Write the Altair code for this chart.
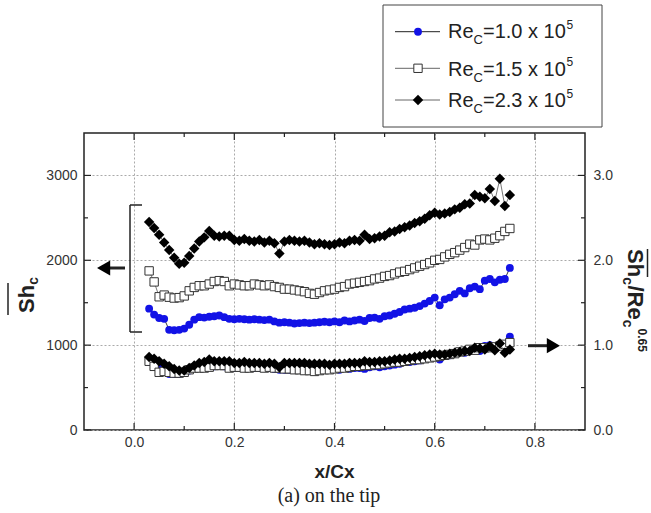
import altair as alt
import pandas as pd

# ---------------- data ----------------
X = [0.03, 0.04, 0.05, 0.06, 0.07, 0.08, 0.09, 0.10, 0.11, 0.12,
     0.13, 0.14, 0.15, 0.16, 0.17, 0.18, 0.19, 0.20, 0.21, 0.22,
     0.23, 0.24, 0.25, 0.26, 0.27, 0.28, 0.29, 0.30, 0.31, 0.32,
     0.33, 0.34, 0.35, 0.36, 0.37, 0.38, 0.39, 0.40, 0.41, 0.42,
     0.43, 0.44, 0.45, 0.46, 0.47, 0.48, 0.49, 0.50, 0.51, 0.52,
     0.53, 0.54, 0.55, 0.56, 0.57, 0.58, 0.59, 0.60, 0.61, 0.62,
     0.63, 0.64, 0.65, 0.66, 0.67, 0.68, 0.69, 0.70, 0.71, 0.72,
     0.73, 0.74, 0.75]

# Sh_c (left axis)
SH_RE10 = [1430, 1360, 1320, 1310, 1180, 1175, 1180, 1195, 1240, 1300,
           1330, 1325, 1335, 1340, 1350, 1330, 1310, 1305, 1310, 1305,
           1300, 1305, 1300, 1295, 1300, 1280, 1265, 1270, 1265, 1255,
           1260, 1265, 1260, 1265, 1270, 1275, 1270, 1280, 1270, 1290,
           1280, 1290, 1300, 1285, 1320, 1325, 1310, 1340, 1350, 1370,
           1390, 1420, 1430, 1440, 1460, 1490, 1520, 1560, 1470, 1540,
           1560, 1600, 1640, 1610, 1670, 1690, 1660, 1760, 1780, 1740,
           1770, 1780, 1910]
SH_RE15 = [1875, 1745, 1570, 1590, 1565, 1555, 1560, 1580, 1640, 1680,
           1700, 1700, 1720, 1750, 1760, 1750, 1700, 1720, 1710, 1700,
           1700, 1720, 1710, 1700, 1710, 1690, 1680, 1660, 1660, 1650,
           1640, 1630, 1610, 1600, 1620, 1640, 1650, 1660, 1680, 1690,
           1720, 1730, 1740, 1750, 1760, 1780, 1790, 1810, 1820, 1840,
           1860, 1870, 1890, 1910, 1930, 1950, 1970, 2000, 2010, 2040,
           2070, 2090, 2120, 2150, 2190, 2180, 2240, 2250, 2240, 2260,
           2290, 2340, 2375]
SH_RE23 = [2450, 2380, 2300, 2210, 2120, 2030, 1960, 1970, 2050, 2140,
           2220, 2270, 2345, 2290, 2280, 2290, 2290, 2240, 2230, 2250,
           2230, 2220, 2240, 2210, 2230, 2200, 2080, 2220, 2240, 2230,
           2220, 2230, 2210, 2190, 2200, 2190, 2180, 2190, 2210, 2200,
           2230, 2240, 2230, 2300, 2250, 2260, 2280, 2290, 2330, 2340,
           2370, 2390, 2410, 2440, 2460, 2490, 2530, 2560, 2540, 2550,
           2570, 2600, 2620, 2660, 2670, 2770, 2750, 2730, 2840, 2700,
           2960, 2640, 2770]

# Sh_c / Re_c^0.65 (right axis)
N_RE10 = [0.80, 0.77, 0.74, 0.74, 0.66, 0.66, 0.66, 0.67, 0.70, 0.73,
          0.75, 0.75, 0.75, 0.75, 0.76, 0.75, 0.74, 0.73, 0.74, 0.73,
          0.73, 0.73, 0.73, 0.73, 0.73, 0.72, 0.71, 0.71, 0.71, 0.71,
          0.71, 0.71, 0.71, 0.71, 0.71, 0.72, 0.71, 0.72, 0.71, 0.73,
          0.72, 0.73, 0.73, 0.72, 0.74, 0.75, 0.74, 0.75, 0.76, 0.77,
          0.78, 0.80, 0.80, 0.81, 0.82, 0.84, 0.85, 0.88, 0.83, 0.87,
          0.88, 0.90, 0.92, 0.91, 0.94, 0.95, 0.93, 0.99, 1.00, 0.98,
          1.00, 1.00, 1.10]
N_RE15 = [0.81, 0.75, 0.68, 0.69, 0.68, 0.67, 0.67, 0.68, 0.71, 0.73,
          0.73, 0.73, 0.74, 0.76, 0.76, 0.76, 0.73, 0.74, 0.74, 0.73,
          0.73, 0.74, 0.74, 0.73, 0.74, 0.73, 0.73, 0.72, 0.72, 0.71,
          0.71, 0.70, 0.70, 0.69, 0.70, 0.71, 0.71, 0.72, 0.73, 0.73,
          0.74, 0.75, 0.75, 0.76, 0.76, 0.77, 0.77, 0.78, 0.79, 0.80,
          0.80, 0.81, 0.82, 0.83, 0.83, 0.84, 0.85, 0.86, 0.87, 0.88,
          0.89, 0.90, 0.92, 0.93, 0.95, 0.94, 0.97, 0.97, 0.97, 0.98,
          0.99, 1.01, 1.03]
N_RE23 = [0.86, 0.84, 0.81, 0.78, 0.75, 0.72, 0.70, 0.70, 0.73, 0.76,
          0.79, 0.80, 0.83, 0.81, 0.81, 0.81, 0.81, 0.79, 0.79, 0.80,
          0.79, 0.79, 0.79, 0.78, 0.79, 0.78, 0.74, 0.79, 0.79, 0.79,
          0.79, 0.79, 0.78, 0.78, 0.78, 0.78, 0.77, 0.78, 0.78, 0.78,
          0.79, 0.79, 0.79, 0.81, 0.80, 0.80, 0.81, 0.81, 0.82, 0.83,
          0.84, 0.84, 0.85, 0.86, 0.87, 0.88, 0.89, 0.90, 0.89, 0.89,
          0.90, 0.91, 0.92, 0.93, 0.93, 0.97, 0.96, 0.95, 0.99, 0.94,
          1.02, 0.91, 0.95]

X_MAJOR = [0.0, 0.2, 0.4, 0.6, 0.8]
X_MINOR = [0.1, 0.3, 0.5, 0.7]
SH_MAJOR = [0, 1000, 2000, 3000]
SH_MINOR = [500, 1500, 2500]
N_MAJOR = [0.0, 1.0, 2.0, 3.0]
N_MINOR = [0.5, 1.5, 2.5]
RE_LABELS = ["=1.0 x 10", "=1.5 x 10", "=2.3 x 10"]

# ---------------- styling ----------------
W, H = 501, 297
SANS = "Liberation Sans"
SERIF = "Liberation Serif"
BLUE = "#1212e6"
INK = "#222222"
ONE = pd.DataFrame({"a": [0]})
SZ_C, SZ_S, SZ_D = 62, 70, 110

XENC = alt.X("x:Q", scale=alt.Scale(domain=[-0.1, 0.9], nice=False, zero=False),
             axis=alt.Axis(values=X_MAJOR, format=".1f", title=None, ticks=False, tickSize=0,
                           domain=False, grid=True, gridDash=[2, 2], gridColor="#aaaaaa",
                           labelFont=SANS, labelFontSize=14, labelColor="#333333",
                           labelPadding=5))
YL = alt.Y("value:Q", scale=alt.Scale(domain=[0, 3500], nice=False),
           axis=alt.Axis(orient="left", values=SH_MAJOR, format="d", title=None, ticks=False,
                         tickSize=0, domain=False, grid=True, gridDash=[2, 2],
                         gridColor="#aaaaaa", labelFont=SANS, labelFontSize=14,
                         labelColor="#333333", labelPadding=7))
YR = alt.Y("value:Q", scale=alt.Scale(domain=[0, 3.5], nice=False),
           axis=alt.Axis(orient="right", values=N_MAJOR, format=".1f", title=None, ticks=False,
                         tickSize=0, domain=False, grid=False, labelFont=SANS, labelFontSize=14,
                         labelColor="#333333", labelPadding=8))


def series(vals, yenc, kind):
    df = pd.DataFrame({"x": X, "value": vals})
    lcol = "#222222" if kind == "circle" else "#666666"
    line = alt.Chart(df).mark_line(color=lcol, strokeWidth=0.9).encode(x=XENC, y=yenc)
    if kind == "circle":
        pts = alt.Chart(df).mark_point(shape="circle", filled=True, fill=BLUE, size=SZ_C,
                                       opacity=1).encode(x=XENC, y=yenc)
    elif kind == "square":
        pts = alt.Chart(df).mark_point(shape="square", filled=True, fill="white",
                                       stroke="#333333", strokeWidth=1, size=SZ_S,
                                       opacity=1).encode(x=XENC, y=yenc)
    else:
        pts = alt.Chart(df).mark_point(shape="diamond", filled=True, fill="#000000",
                                       size=SZ_D, opacity=1).encode(x=XENC, y=yenc)
    return [line, pts]


def yticks(vals, yenc, x1, x2):
    df = pd.DataFrame({"value": vals})
    return alt.Chart(df).mark_rule(color=INK, strokeWidth=1.2).encode(
        y=yenc, x=alt.value(x1), x2=alt.value(x2))


def xticks(vals, y1, y2):
    df = pd.DataFrame({"x": vals})
    return alt.Chart(df).mark_rule(color=INK, strokeWidth=1.2).encode(
        x=XENC, y=alt.value(y1), y2=alt.value(y2))


def txt(text, x, y, size, weight="normal", font=SANS, angle=0, align="left",
        baseline="alphabetic", color=INK):
    kw = dict(text=text, fontSize=size, fontWeight=weight, font=font, align=align,
              baseline=baseline, color=color)
    if angle:
        kw["angle"] = angle
    return alt.Chart(ONE).mark_text(**kw).encode(x=alt.value(x), y=alt.value(y))


def seg(x1, y1, x2, y2, w=1.2, color=INK):
    return alt.Chart(ONE).mark_rule(strokeWidth=w, color=color).encode(
        x=alt.value(x1), x2=alt.value(x2), y=alt.value(y1), y2=alt.value(y2))


def sym(shape, x, y, size, fill, stroke=None):
    kw = dict(shape=shape, filled=True, fill=fill, size=size, opacity=1)
    if stroke:
        kw.update(stroke=stroke, strokeWidth=1)
    return alt.Chart(ONE).mark_point(**kw).encode(x=alt.value(x), y=alt.value(y))


# ---------------- left (Sh) group ----------------
left_layers = []
left_layers += series(SH_RE10, YL, "circle")
left_layers += series(SH_RE15, YL, "square")
left_layers += series(SH_RE23, YL, "diamond")
left_layers += [yticks(SH_MAJOR, YL, 0, 7), yticks(SH_MINOR, YL, 0, 4)]
left_layers += [xticks(X_MAJOR, H, H - 7), xticks(X_MINOR, H, H - 4),
                xticks(X_MAJOR, 0, 7), xticks(X_MINOR, 0, 4)]
left = alt.layer(*left_layers)

# ---------------- right (normalised) group ----------------
right_layers = []
right_layers += series(N_RE10, YR, "circle")
right_layers += series(N_RE15, YR, "square")
right_layers += series(N_RE23, YR, "diamond")
right_layers += [yticks(N_MAJOR, YR, W, W - 7), yticks(N_MINOR, YR, W, W - 4)]
right = alt.layer(*right_layers)

# ---------------- annotations ----------------
ann = []
# bracket and arrows
ann += [seg(46, 72, 46, 199, 1.5), seg(46, 72, 58, 72, 1.5), seg(46, 199, 58, 199, 1.5)]
ann += [seg(24, 135, 41, 135, 3), sym("triangle-left", 19.6, 135, 230, "#000000")]
ann += [seg(444, 212.7, 466, 212.7, 3), sym("triangle-right", 469.4, 212.7, 230, "#000000")]

# left axis title:  overline Sh with subscript c
ann += [txt("Sh", -50, 180, 22, "bold", angle=270),
        txt("c", -46, 151.8, 14, "bold", angle=270),
        seg(-76, 150, -76, 182, 1.5)]
# right axis title: overline Sh_c / Re_c ^0.65
ann += [txt("Sh", 544, 116, 22, "bold", angle=90),
        txt("c", 539, 144.2, 14, "bold", angle=90),
        txt("/Re", 544, 152.5, 22, "bold", angle=90),
        txt("c", 539, 186.8, 14, "bold", angle=90),
        txt("0.65", 554, 195.5, 12, "bold", angle=90),
        seg(563.5, 116, 563.5, 144, 1.5)]
# x title and caption
ann += [txt("x/Cx", 250.5, 345, 19, "bold", align="center"),
        txt("(a) on the tip", 245, 369, 20, font=SERIF, align="center")]

# legend box
ann.append(alt.Chart(ONE).mark_rect(fill="white", stroke="#444444", strokeWidth=1).encode(
    x=alt.value(299), x2=alt.value(518), y=alt.value(-128), y2=alt.value(-6)))
row_c = [-101.3, -64.7, -33.0]
row_b = [-95.0, -57.5, -26.0]
kinds = ["circle", "square", "diamond"]
for i in range(3):
    lc = "#222222" if kinds[i] == "circle" else "#666666"
    ann.append(seg(311, row_c[i], 356, row_c[i], 1, lc))
    if kinds[i] == "circle":
        ann.append(sym("circle", 334, row_c[i], SZ_C, BLUE))
    elif kinds[i] == "square":
        ann.append(sym("square", 334, row_c[i], SZ_S, "white", "#333333"))
    else:
        ann.append(sym("diamond", 334, row_c[i], SZ_D, "#000000"))
    ann += [txt("Re", 364, row_b[i], 20),
            txt("C", 389.6, row_b[i] + 6, 13),
            txt(RE_LABELS[i], 399, row_b[i], 20),
            txt("5", 482.5, row_b[i] - 9.5, 12)]
annotations = alt.layer(*ann)

chart = alt.layer(left, right, annotations).resolve_scale(y="independent").resolve_axis(
    y="independent").properties(
    width=W, height=H,
    autosize=alt.AutoSizeParams(type="none"),
    padding={"left": 84, "top": 133, "right": 66, "bottom": 83},
    background="white",
).configure_view(stroke=INK, strokeWidth=1.5)

chart.save("out.html", embed_options={"renderer": "svg", "actions": False})
